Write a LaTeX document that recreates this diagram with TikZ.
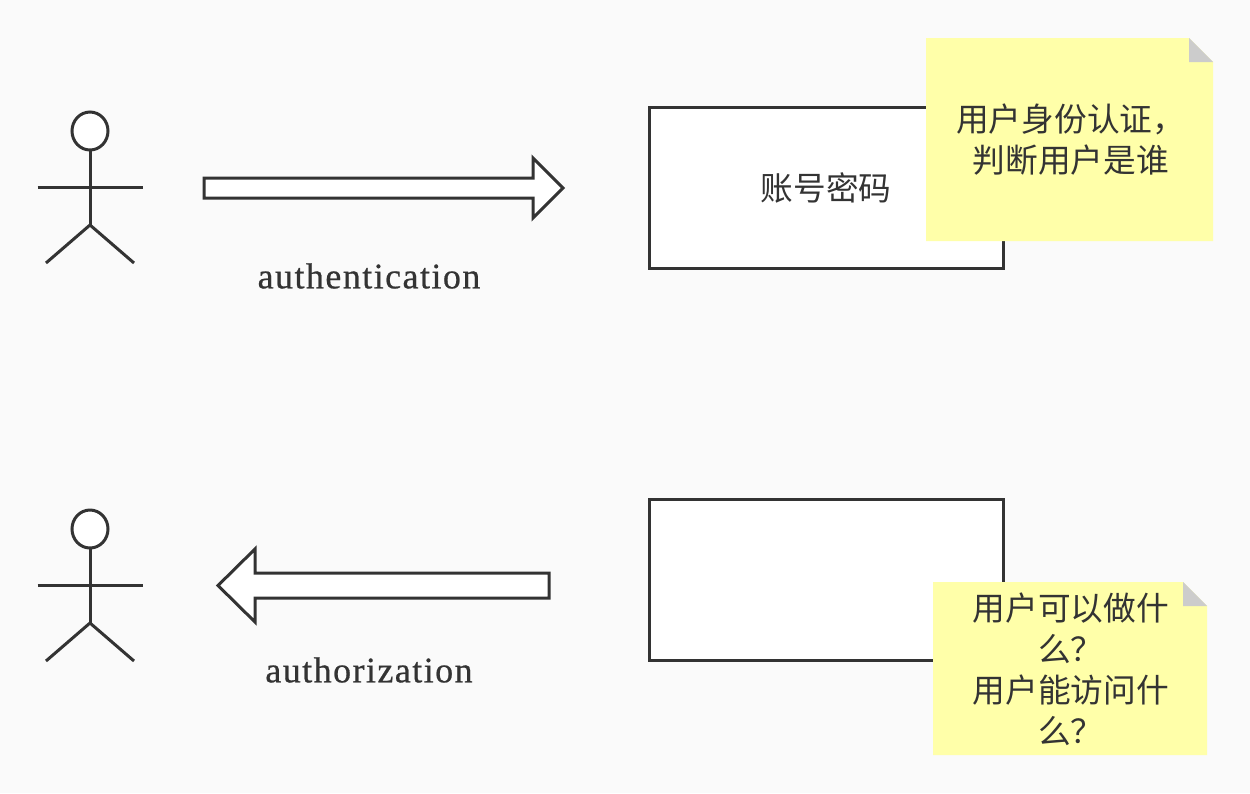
\documentclass[tikz,border=0pt]{standalone}
\usepackage{fontspec}
\setmainfont{Liberation Serif}
\newfontfamily\cjk{Noto Sans CJK SC}[Scale=1.0]
\newfontfamily\latinlabel{Liberation Serif}[LetterSpace=4,FakeBold=0.6]
\definecolor{ink}{HTML}{333333}
\definecolor{paper}{HTML}{FAFAFA}
\definecolor{noteyellow}{HTML}{FFFFA9}
\definecolor{foldgray}{HTML}{CCCCCC}
\tikzset{
  ln/.style={draw=ink,line width=3pt,line join=miter},
  limb/.style={draw=ink,line width=3pt},
  boxnode/.style={ln,fill=white,rectangle,inner sep=0pt,minimum width=354pt,minimum height=161pt,text=ink,font=\cjk\fontsize{32.7pt}{41pt}\selectfont},
  blockarrow/.style={ln,fill=white},
  notetext/.style={inner sep=0pt,align=center,text=ink,font=\cjk\fontsize{32.7pt}{41pt}\selectfont},
  latinnode/.style={inner sep=0pt,text=ink,font=\latinlabel\fontsize{36pt}{40pt}\selectfont},
  pics/actor/.style={code={
    \draw[limb] (0,19) -- (0,94);
    \draw[limb] (-52.5,56) -- (52.5,56);
    \draw[limb] (-44,132) -- (0,94) -- (44,132);
    \draw[ln,fill=white] (0,0) ellipse [x radius=18,y radius=19];
  }}
}
\begin{document}
\begin{tikzpicture}[x=1pt,y=-1pt]
\useasboundingbox[fill=paper] (0,0) rectangle (1250,793);

\pic at (90,131) {actor};
\pic at (90,529) {actor};

\draw[blockarrow] (204,178) -- (533,178) -- (533,158) -- (563,188) -- (533,218) -- (533,198) -- (204,198) -- cycle;
\draw[blockarrow] (549,573) -- (255,573) -- (255,549) -- (218,585.5) -- (255,622) -- (255,598) -- (549,598) -- cycle;

\node[latinnode] (authn) at (369,276) {authentication};
\node[latinnode] (authz) at (369,670) {authorization};

\node[boxnode] (acct) at (826,188) {账号密码};
\node[boxnode] (perm) at (826,580) {};

\fill[noteyellow] (926,38) -- (1189,38) -- (1213,62) -- (1213,241) -- (926,241) -- cycle;
\fill[foldgray] (1189,38) -- (1213,62) -- (1189,62) -- cycle;
\node[notetext] (note1) at (1070.7,140) {用户身份认证，\\判断用户是谁};

\fill[noteyellow] (933,582) -- (1183,582) -- (1207,606) -- (1207,755) -- (933,755) -- cycle;
\fill[foldgray] (1183,582) -- (1207,606) -- (1183,606) -- cycle;
\node[notetext] (note2) at (1070.7,669) {用户可以做什\\么？\\用户能访问什\\么？};
\end{tikzpicture}
\end{document}
